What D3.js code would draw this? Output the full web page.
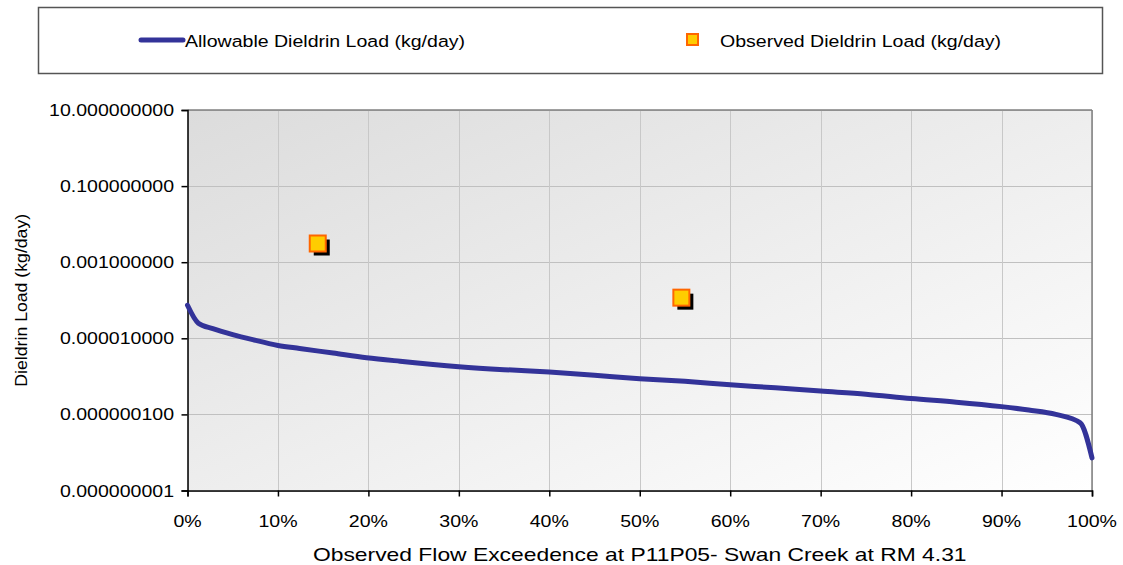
<!DOCTYPE html>
<html lang="en">
<head>
    <meta charset="UTF-8">
    <title>Dieldrin Load Duration Curve</title>
    <script src="https://d3js.org/d3.v7.min.js"></script>
    <style>
        body { margin: 0; background: #fff; }
        text { font-family: "Liberation Sans", Arial, sans-serif; fill: #000; }
    </style>
</head>
<body>
<svg id="chart" width="1123" height="565"></svg>
<script>
    // flow exceedence (fraction) and allowable load (kg/day)
    const flowPct = [0, 0.012, 0.028, 0.05, 0.072, 0.10, 0.124, 0.161, 0.198, 0.235, 0.30, 0.35, 0.40, 0.45,
        0.50, 0.55, 0.60, 0.65, 0.70, 0.75, 0.80, 0.85, 0.90, 0.93, 0.96, 0.987, 1.00];
    const allowable = [7.4e-5, 2.5e-5, 1.8e-5, 1.25e-5, 9.2e-6, 6.5e-6, 5.4e-6, 4.1e-6, 3.1e-6, 2.5e-6, 1.8e-6,
        1.5e-6, 1.3e-6, 1.07e-6, 8.7e-7, 7.4e-7, 6.0e-7, 5.0e-7, 4.1e-7, 3.4e-7, 2.6e-7, 2.1e-7,
        1.6e-7, 1.3e-7, 1.0e-7, 6.0e-8, 7.2e-9];

    // observed samples
    const obsPct = [0.144, 0.546];
    const observed = [0.0031, 1.17e-4];

    const yTicks = [10, 0.1, 0.001, 0.00001, 0.0000001, 0.000000001];
    const yTickLabels = ["10.000000000", "0.100000000", "0.001000000", "0.000010000", "0.000000100", "0.000000001"];
    const xTicks = [0, 0.1, 0.2, 0.3, 0.4, 0.5, 0.6, 0.7, 0.8, 0.9, 1.0];

    const LINE_COLOR = "#333399";
    const SX = 1.15; // text is a little wider than plain Arial

    const svg = d3.select("#chart");
    const pLeft = 187.5, pRight = 1092, pTop = 110, pBottom = 490.5;

    const x = d3.scaleLinear().domain([0, 1]).range([pLeft, pRight]);
    const y = d3.scaleLog().domain([1e-9, 10]).range([pBottom, pTop]);

    function label(g, tx, ty, str, size, anchor, sx) {
        return g.append("text")
            .attr("transform", `translate(${tx},${ty}) scale(${sx || SX},1)`)
            .attr("text-anchor", anchor || "start")
            .style("font-size", size + "px")
            .text(str);
    }

    // background gradient
    const defs = svg.append("defs");
    const grad = defs.append("linearGradient").attr("id", "bg")
        .attr("x1", "0").attr("y1", "0").attr("x2", "1").attr("y2", "1");
    grad.append("stop").attr("offset", "0%").attr("stop-color", "#dcdcdc");
    grad.append("stop").attr("offset", "100%").attr("stop-color", "#ffffff");

    svg.append("rect")
        .attr("x", pLeft).attr("y", pTop)
        .attr("width", pRight - pLeft).attr("height", pBottom - pTop)
        .attr("fill", "url(#bg)");

    // gridlines
    svg.append("g").selectAll("line").data(yTicks).join("line")
        .attr("x1", pLeft).attr("x2", pRight)
        .attr("y1", d => Math.round(y(d)) + 0.5).attr("y2", d => Math.round(y(d)) + 0.5)
        .attr("stroke", "#c0c0c0");
    svg.append("g").selectAll("line").data(xTicks).join("line")
        .attr("y1", pTop).attr("y2", pBottom)
        .attr("x1", d => Math.round(x(d)) + 0.5).attr("x2", d => Math.round(x(d)) + 0.5)
        .attr("stroke", "#c8c8c8");

    // plot frame: grey top/right, black axes
    svg.append("line").attr("x1", pLeft).attr("x2", pRight).attr("y1", pTop).attr("y2", pTop)
        .attr("stroke", "#808080").attr("stroke-width", 1.5);
    svg.append("line").attr("x1", pRight).attr("x2", pRight).attr("y1", pTop).attr("y2", pBottom)
        .attr("stroke", "#808080").attr("stroke-width", 1.5);

    // y axis
    const yAxis = svg.append("g").attr("transform", `translate(${pLeft},0)`)
        .call(d3.axisLeft(y).tickValues(yTicks).tickSize(6).tickFormat(""));
    yAxis.select(".domain").attr("stroke", "#000").attr("stroke-width", 1.5);
    yAxis.selectAll(".tick line").attr("stroke", "#000").attr("stroke-width", 1.5);
    yTicks.forEach((t, i) => label(svg, 174, y(t) + 6, yTickLabels[i], 17, "end"));

    // x axis
    const xAxis = svg.append("g").attr("transform", `translate(0,${pBottom})`)
        .call(d3.axisBottom(x).tickValues(xTicks).tickSize(6).tickFormat(""));
    xAxis.select(".domain").attr("stroke", "#000").attr("stroke-width", 1.5);
    xAxis.selectAll(".tick line").attr("stroke", "#000").attr("stroke-width", 1.5);
    xTicks.forEach(t => label(svg, x(t), 527, d3.format(".0%")(t), 17, "middle"));

    // axis titles
    label(svg, (pLeft + pRight) / 2, 561, "Observed Flow Exceedence at P11P05- Swan Creek at RM 4.31", 18, "middle", 1.27);
    svg.append("text")
        .attr("transform", `translate(27,${(pTop + pBottom) / 2}) rotate(-90) scale(1.04,1)`)
        .attr("text-anchor", "middle")
        .style("font-size", "17px")
        .text("Dieldrin Load (kg/day)");

    // allowable load line
    const line = d3.line().x(d => x(d[0])).y(d => y(d[1])).curve(d3.curveMonotoneX);
    svg.append("path")
        .datum(flowPct.map((p, i) => [p, allowable[i]]))
        .attr("d", line)
        .attr("fill", "none")
        .attr("stroke", LINE_COLOR)
        .attr("stroke-width", 5)
        .attr("stroke-linejoin", "round")
        .attr("stroke-linecap", "round");

    // observed markers with drop shadow
    const obs = obsPct.map((p, i) => [p, observed[i]]);
    const S = 16;
    svg.append("g").selectAll("rect").data(obs).join("rect")
        .attr("x", d => x(d[0]) - S / 2 + 4).attr("y", d => y(d[1]) - S / 2 + 4)
        .attr("width", S).attr("height", S).attr("fill", "#000");
    svg.append("g").selectAll("rect").data(obs).join("rect")
        .attr("x", d => x(d[0]) - S / 2).attr("y", d => y(d[1]) - S / 2)
        .attr("width", S).attr("height", S)
        .attr("fill", "#ffcc00").attr("stroke", "#ff6600").attr("stroke-width", 2);

    // legend
    const lg = svg.append("g");
    lg.append("rect").attr("x", 38.5).attr("y", 7.5).attr("width", 1064).attr("height", 66)
        .attr("fill", "#fff").attr("stroke", "#555").attr("stroke-width", 1.5);
    lg.append("line").attr("x1", 141).attr("x2", 183).attr("y1", 40).attr("y2", 40)
        .attr("stroke", LINE_COLOR).attr("stroke-width", 5).attr("stroke-linecap", "round");
    label(lg, 185, 47, "Allowable Dieldrin Load (kg/day)", 17);
    lg.append("rect").attr("x", 687).attr("y", 34).attr("width", 11).attr("height", 11)
        .attr("fill", "#ffcc00").attr("stroke", "#ff6600").attr("stroke-width", 2);
    label(lg, 720, 47, "Observed Dieldrin Load (kg/day)", 17);
</script>
</body>
</html>
